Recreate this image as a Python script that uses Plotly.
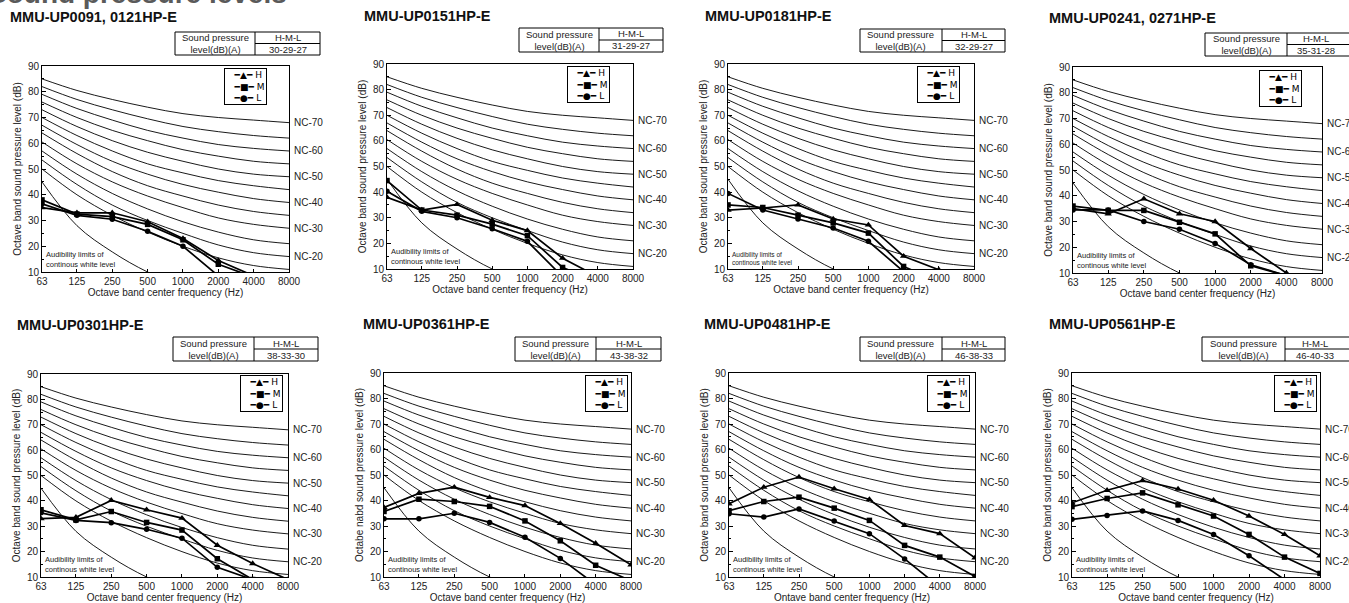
import math
import plotly.graph_objects as go

W, H = 1349, 603

# ---------------- data ----------------
FREQS = [63, 125, 250, 500, 1000, 2000, 4000, 8000]
FREQ_TICKS = ["63", "125", "250", "500", "1000", "2000", "4000", "8000"]

# NC reference curves (dB at each octave band)
NC_70 = [85.0, 80.5, 77.0, 74.0, 71.5, 70.0, 69.0, 68.0]
NC_65 = [82.0, 77.0, 73.0, 69.5, 66.5, 64.5, 63.0, 62.0]
NC_60 = [79.0, 73.5, 69.0, 65.0, 62.0, 59.5, 58.0, 57.0]
NC_55 = [76.0, 70.0, 65.0, 61.0, 57.5, 55.0, 53.0, 52.0]
NC_50 = [73.0, 66.5, 61.0, 56.5, 53.0, 50.0, 48.0, 47.0]
NC_45 = [70.0, 63.0, 57.0, 52.0, 48.5, 45.5, 43.5, 42.0]
NC_40 = [67.0, 59.5, 53.0, 48.0, 44.0, 41.0, 38.5, 37.0]
NC_35 = [64.0, 56.0, 49.0, 43.5, 39.5, 36.0, 33.5, 32.0]
NC_30 = [60.5, 52.0, 45.0, 39.5, 35.0, 31.0, 28.5, 27.0]
NC_25 = [57.0, 48.0, 40.5, 34.5, 29.5, 25.5, 22.5, 21.0]
NC_20 = [53.5, 44.0, 36.0, 30.0, 25.0, 20.5, 17.5, 16.0]
NC_15 = [50.0, 40.0, 32.0, 25.5, 20.0, 15.5, 12.5, 11.0]
NC_NAMES = ["NC-70", "NC-65", "NC-60", "NC-55", "NC-50", "NC-45",
            "NC-40", "NC-35", "NC-30", "NC-25", "NC-20", "NC-15"]
NC_CURVES = [NC_70, NC_65, NC_60, NC_55, NC_50, NC_45,
             NC_40, NC_35, NC_30, NC_25, NC_20, NC_15]
NC_LABELLED = ["NC-70", "NC-60", "NC-50", "NC-40", "NC-30", "NC-20"]

AUDIBILITY = [45.0, 28.0, 17.8, 10.0, 4.5, None, None, None]

MODELS = ["MMU-UP0091, 0121HP-E", "MMU-UP0151HP-E", "MMU-UP0181HP-E",
          "MMU-UP0241, 0271HP-E", "MMU-UP0301HP-E", "MMU-UP0361HP-E",
          "MMU-UP0481HP-E", "MMU-UP0561HP-E"]
SPL_HML = ["30-29-27", "31-29-27", "32-29-27", "35-31-28",
           "38-33-30", "43-38-32", "46-38-33", "46-40-33"]

H_0091 = [35.0, 33.0, 33.0, 29.5, 23.0, 14.5, 8.5, None]
M_0091 = [38.0, 32.5, 31.5, 28.5, 22.5, 13.0, 8.0, None]
L_0091 = [36.5, 32.0, 30.5, 25.8, 20.0, 8.5, None, None]

H_0151 = [38.0, 33.0, 35.2, 29.0, 25.0, 14.2, 7.0, None]
M_0151 = [44.5, 33.0, 31.0, 27.5, 23.0, 10.6, 5.0, None]
L_0151 = [40.3, 32.5, 30.0, 25.7, 20.8, 7.0, None, None]

H_0181 = [33.0, 33.8, 35.0, 29.5, 27.2, 15.0, 9.7, None]
M_0181 = [35.0, 34.0, 31.0, 28.0, 24.0, 11.0, 5.0, None]
L_0181 = [39.5, 33.0, 29.5, 26.0, 20.8, 9.0, None, None]

H_0241 = [35.0, 33.0, 38.8, 33.0, 30.0, 19.5, 10.0, None]
M_0241 = [36.0, 34.3, 34.3, 29.7, 25.2, 12.8, 9.0, None]
L_0241 = [34.5, 34.5, 30.0, 27.0, 21.5, 13.2, 9.0, None]

H_0301 = [33.0, 33.5, 40.2, 36.5, 33.2, 22.5, 15.3, 9.0]
M_0301 = [36.5, 32.5, 35.8, 31.5, 28.5, 17.2, 9.0, None]
L_0301 = [35.3, 32.3, 31.4, 28.8, 25.3, 13.8, 9.0, None]

H_0361 = [37.3, 42.8, 45.2, 41.2, 38.0, 31.0, 23.2, 14.8]
M_0361 = [35.7, 40.5, 39.6, 37.7, 32.0, 24.2, 14.6, 8.5]
L_0361 = [32.8, 32.8, 35.0, 31.4, 25.6, 17.3, 7.0, None]

H_0481 = [38.7, 45.2, 49.2, 44.6, 40.4, 30.2, 27.0, 17.5]
M_0481 = [36.0, 39.6, 41.3, 37.0, 32.2, 22.4, 17.8, 10.2]
L_0481 = [34.8, 33.5, 36.7, 32.0, 27.0, 17.1, 6.0, None]

H_0561 = [39.1, 44.0, 47.8, 44.5, 40.1, 33.9, 26.7, 18.3]
M_0561 = [37.6, 40.8, 43.0, 38.3, 33.9, 26.7, 17.8, 11.4]
L_0561 = [32.6, 34.1, 35.9, 32.2, 26.7, 18.3, 9.0, None]

H_VALUES = [H_0091, H_0151, H_0181, H_0241, H_0301, H_0361, H_0481, H_0561]
M_VALUES = [M_0091, M_0151, M_0181, M_0241, M_0301, M_0361, M_0481, M_0561]
L_VALUES = [L_0091, L_0151, L_0181, L_0241, L_0301, L_0361, L_0481, L_0561]

Y_TITLES = ["Octave band sound pressure level (dB)"] * 8
Y_TITLES[5] = "Octabe nabd sound pressure level (dB)"
X_TITLES = ["Octave band center frequency (Hz)"] * 8
X_TITLES[6] = "Ontave band center frequency (Hz)"

# ---------------- layout geometry (pixels) ----------------
PLOT_BOX = [(42, 289, 66, 272), (387, 633, 64, 269), (728, 974, 64, 269), (1073, 1322, 67, 273),
            (41, 288, 374, 577), (384, 631, 373, 577), (729, 975, 373, 577), (1072, 1320, 373, 577)]
TITLE_POS = [(8, 17), (362, 16), (703, 16), (1047, 18), (15, 325), (361, 324), (702, 324), (1047, 324)]
TABLE_BOX = [(175, 320, 32, 55, 255), (519, 663, 28, 52, 599), (860, 1005, 29, 52, 942),
             (1205, 1352, 33, 56, 1287), (173, 318, 337, 361, 254), (515, 661, 337, 361, 596),
             (860, 1005, 337, 361, 942), (1202, 1352, 337, 361, 1285)]
LEGEND_BOX = [(267, 68), (610, 66), (960, 66), (1302, 70), (283, 375), (628, 375), (970, 375), (1317, 375)]
AUD_FONT = [7.5, 7.5, 6.5, 7.5, 7.5, 7.5, 7.5, 7.5]

FONT = "Liberation Sans, Arial, sans-serif"
TXT = "#222222"


def px(xp):
    return xp / W


def py(yp):
    return 1 - yp / H


fig = go.Figure()
layout = dict(width=W, height=H, margin=dict(l=0, r=0, t=0, b=0),
              paper_bgcolor="white", plot_bgcolor="white", showlegend=False,
              font=dict(family=FONT, color=TXT, size=10), template="none")
annotations = []
shapes = []

for i in range(8):
    n = i + 1
    sfx = "" if n == 1 else str(n)
    xa, ya = "x" + sfx, "y" + sfx
    # NC curves
    for name, curve in zip(NC_NAMES, NC_CURVES):
        fig.add_trace(go.Scatter(x=FREQS, y=curve, mode="lines", name=name,
                                 line=dict(color="black", width=0.9, shape="spline", smoothing=1.0),
                                 xaxis=xa, yaxis=ya, hoverinfo="skip", showlegend=False))
    fig.add_trace(go.Scatter(x=FREQS, y=AUDIBILITY, mode="lines", name="Audibility",
                             line=dict(color="black", width=0.9, shape="spline", smoothing=1.0),
                             xaxis=xa, yaxis=ya, hoverinfo="skip", showlegend=False))
    for nm, vals, sym, sz in [("H", H_VALUES[i], "triangle-up", 6.5),
                              ("M", M_VALUES[i], "square", 5.5),
                              ("L", L_VALUES[i], "circle", 5.5)]:
        fig.add_trace(go.Scatter(x=FREQS, y=vals, mode="lines+markers", name=nm,
                                 line=dict(color="black", width=1.7),
                                 marker=dict(symbol=sym, size=sz, color="black"),
                                 xaxis=xa, yaxis=ya, showlegend=False))

    l, r, t, b = PLOT_BOX[i]
    layout["xaxis" + sfx] = dict(
        domain=[px(l), px(r)], anchor=ya, type="log",
        range=[math.log10(63), math.log10(8000)],
        tickmode="array", tickvals=FREQS, ticktext=FREQ_TICKS,
        ticks="inside", ticklen=3, tickcolor="black",
        showline=True, linecolor="black", linewidth=1, mirror=True,
        showgrid=False, zeroline=False,
        tickfont=dict(size=10, color=TXT, family=FONT),
        title=dict(text=X_TITLES[i], font=dict(size=10, color=TXT, family=FONT), standoff=2),
    )
    layout["yaxis" + sfx] = dict(
        domain=[py(b), py(t)], anchor=xa, range=[10, 90],
        tickmode="linear", tick0=10, dtick=10,
        ticks="inside", ticklen=4, tickcolor="black",
        minor=dict(ticks="inside", ticklen=2, dtick=5, tickcolor="black"),
        showline=True, linecolor="black", linewidth=1, mirror=True,
        showgrid=False, zeroline=False,
        tickfont=dict(size=10, color=TXT, family=FONT),
        title=dict(text=Y_TITLES[i], font=dict(size=10, color=TXT, family=FONT), standoff=4),
    )

    # NC labels on the right
    for name, curve in zip(NC_NAMES, NC_CURVES):
        if name in NC_LABELLED:
            annotations.append(dict(text=name, xref=xa + " domain", yref=ya, x=1, y=curve[-1],
                                    xanchor="left", yanchor="middle", xshift=3, showarrow=False,
                                    font=dict(size=10, color=TXT, family=FONT)))
    # audibility note
    annotations.append(dict(text="Audibility limits of<br>continous white level",
                            xref=xa + " domain", yref=ya, x=0, y=10, xshift=2, yshift=1,
                            xanchor="left", yanchor="bottom", align="left", showarrow=False,
                            font=dict(size=AUD_FONT[i], color=TXT, family=FONT)))
    # panel title
    tx, ty = TITLE_POS[i]
    annotations.append(dict(text="<b>" + MODELS[i] + "</b>", xref="paper", yref="paper",
                            x=px(tx), y=py(ty), xanchor="left", yanchor="middle", showarrow=False,
                            font=dict(size=14.5, color="#111111", family=FONT)))
    # legend box (text legend)
    lx, ly = LEGEND_BOX[i]
    annotations.append(dict(text="   ━▲━ H<br>   ━■━ M<br>   ━●━ L",
                            xref="paper", yref="paper", x=px(lx), y=py(ly),
                            xanchor="right", yanchor="top", align="left", showarrow=False,
                            bordercolor="black", borderwidth=1, borderpad=1, bgcolor="white",
                            font=dict(size=9, color="black", family="DejaVu Sans, " + FONT)))
    # table
    tl, tr, tt, tb, tm = TABLE_BOX[i]
    shapes.append(dict(type="rect", xref="paper", yref="paper", x0=px(tl), x1=px(tr),
                       y0=py(tb), y1=py(tt), line=dict(color="black", width=1)))
    shapes.append(dict(type="line", xref="paper", yref="paper", x0=px(tm), x1=px(tm),
                       y0=py(tb), y1=py(tt), line=dict(color="black", width=1)))
    mid = (tt + tb) / 2
    shapes.append(dict(type="line", xref="paper", yref="paper", x0=px(tm), x1=px(tr),
                       y0=py(mid), y1=py(mid), line=dict(color="black", width=1)))
    annotations.append(dict(text="Sound pressure<br>level(dB)(A)", xref="paper", yref="paper",
                            x=px((tl + tm) / 2), y=py(mid), xanchor="center", yanchor="middle",
                            align="center", showarrow=False,
                            font=dict(size=9.5, color=TXT, family=FONT)))
    rc = (tm + min(tr, 1345)) / 2
    annotations.append(dict(text="H-M-L", xref="paper", yref="paper",
                            x=px(rc), y=py((tt + mid) / 2), xanchor="center", yanchor="middle",
                            showarrow=False, font=dict(size=9.5, color=TXT, family=FONT)))
    annotations.append(dict(text=SPL_HML[i], xref="paper", yref="paper",
                            x=px(rc), y=py((mid + tb) / 2), xanchor="center", yanchor="middle",
                            showarrow=False, font=dict(size=9.5, color=TXT, family=FONT)))

# main heading (partly cut off at the top)
annotations.append(dict(text="<b>Sound pressure levels</b>", xref="paper", yref="paper",
                        x=px(-14), y=py(11), xanchor="left", yanchor="bottom", showarrow=False,
                        font=dict(size=28, color="#5a5a5a", family=FONT)))

layout["annotations"] = annotations
layout["shapes"] = shapes
fig.update_layout(**layout)
fig.write_html("out.html", config={"displayModeBar": False},
               post_script="document.body.style.margin='0px';document.body.style.overflow='hidden';")
